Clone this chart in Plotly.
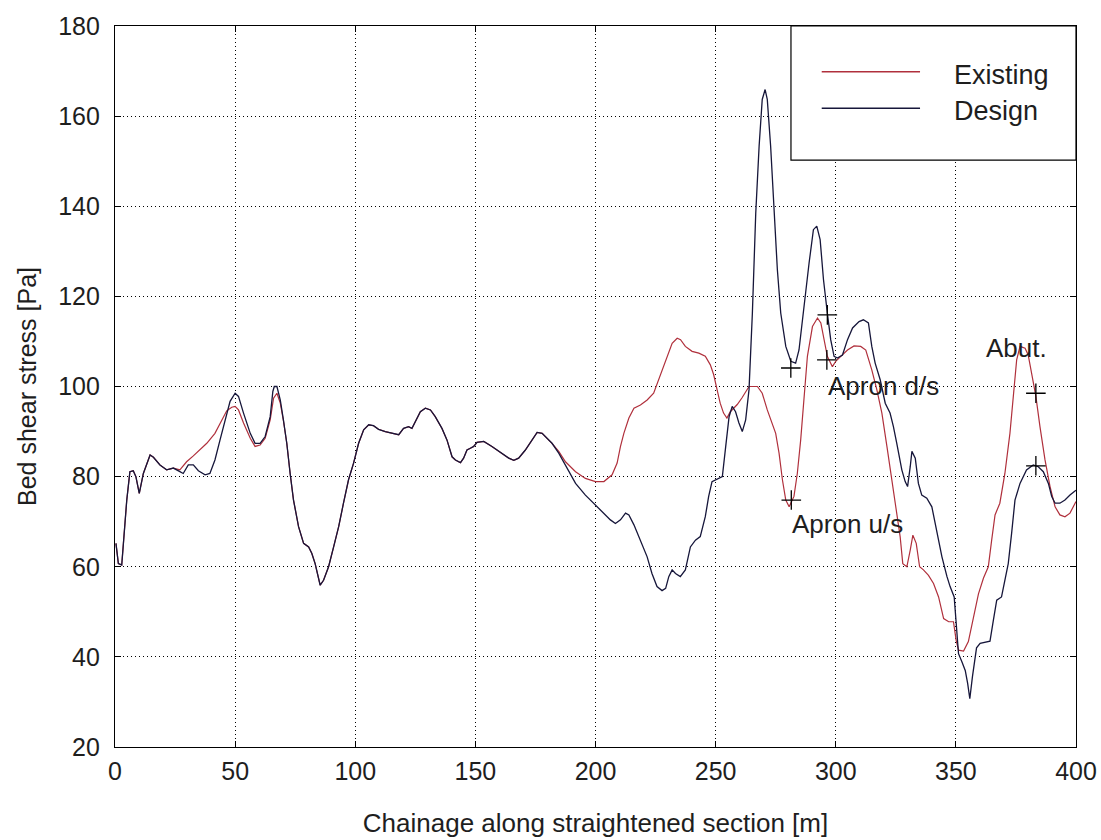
import plotly.graph_objects as go

# ---------------- data ----------------
shared_start_x = [0.4, 1.4, 2.8, 3.5, 4.9, 6.2, 7.6, 8.7, 10.1, 11.8, 14.6, 16.0, 18.7, 21.5, 24.3]
shared_start_y = [65.2, 60.7, 60.4, 65.0, 74.8, 81.1, 81.3, 80.0, 76.3, 80.7, 84.8, 84.3, 82.6, 81.5, 81.9]

shared_mid_x = [71.5, 72.9, 74.3, 76.4, 78.5, 80.6, 81.9, 83.3, 84.7, 85.4, 86.8, 88.9, 91.0, 93.1, 95.1,
                97.2, 99.3, 101.4, 103.5, 105.6, 107.6, 109.7, 112.5, 115.3, 118.1, 120.1, 122.2, 123.6,
                125.0, 127.1, 129.2, 131.3, 133.3, 136.1, 138.2, 140.3, 141.7, 143.8, 145.1, 146.5, 147.9,
                149.3, 150.7, 153.5, 156.9, 161.1, 163.9, 166.0, 168.0, 170.8, 173.6, 175.7, 177.8, 179.9,
                181.9]
shared_mid_y = [87.4, 80.7, 74.8, 68.9, 65.2, 64.4, 63.0, 60.7, 57.0, 55.9, 57.0, 60.0, 64.4, 68.9, 74.1,
                79.3, 83.0, 87.4, 90.4, 91.5, 91.3, 90.5, 90.0, 89.6, 89.3, 90.7, 91.1, 90.7,
                92.2, 94.4, 95.2, 94.8, 93.3, 90.7, 88.1, 84.4, 83.7, 83.1, 84.1, 85.9, 86.3,
                86.7, 87.6, 87.8, 86.7, 85.2, 84.1, 83.6, 84.1, 85.9, 88.1, 89.8, 89.6, 88.5,
                87.4]

existing_a_x = [27.0, 29.8, 32.6, 35.4, 38.2, 41.6, 44.4, 46.5, 48.6, 50.0, 51.4, 53.5, 56.3, 58.3, 60.4,
                62.5, 64.6, 66.0, 67.4, 68.8, 70.1]
existing_a_y = [81.5, 83.3, 84.6, 85.9, 87.4, 89.6, 92.5, 94.6, 95.4, 95.6, 94.8, 91.9, 88.5, 86.7, 87.0,
                88.5, 92.6, 97.4, 98.5, 96.3, 92.4]

existing_b_x = [184.7, 187.5, 191.7, 195.8, 200.0, 203.5, 206.9, 209.0, 210.4, 211.8, 213.9, 216.0, 218.7,
                221.5, 224.2, 226.3, 228.4, 230.5, 231.9, 234.0, 235.4, 237.4, 240.2, 243.0, 245.7, 247.8,
                249.2, 250.6, 251.9, 253.3, 254.7, 256.1, 257.5, 259.0, 261.0, 263.9, 267.4, 269.4, 271.5,
                273.6, 275.0, 276.4, 277.8, 279.2, 280.6, 282.6, 284.0, 285.4, 286.8, 288.2, 290.3, 292.4,
                293.8, 295.1, 296.5, 298.6, 300.0, 302.1, 304.9, 307.6, 310.4, 312.5, 315.0, 317.1, 319.2,
                321.3, 323.3, 325.4, 326.8, 327.9, 329.6, 331.0, 332.1, 333.5, 334.9, 336.5, 338.6, 340.7,
                342.8, 344.9, 347.0, 349.0, 350.1, 351.1, 353.2, 355.2, 357.3, 359.4, 361.5, 363.5, 364.9,
                366.3, 368.3, 370.4, 372.5, 373.9, 375.3, 376.7, 378.8, 380.1, 381.5, 383.3, 385.0, 387.1,
                389.2, 391.3, 393.3, 395.4, 397.5, 399.6, 400.0]
existing_b_y = [85.6, 83.3, 81.1, 79.6, 78.9, 78.9, 80.4, 83.0, 86.7, 89.6, 93.0, 95.2, 95.9,
                97.0, 98.5, 101.5, 104.4, 107.4, 109.6, 110.7, 110.4, 108.9, 107.8, 107.4, 106.7, 104.8,
                102.6, 99.3, 96.3, 94.1, 93.0, 94.4, 95.2, 96.0, 97.5, 100.0, 100.0, 98.5, 94.8,
                91.9, 89.6, 85.2, 79.3, 74.8, 73.3, 75.6, 80.7, 88.1, 97.8, 106.7, 113.3, 115.2,
                114.1, 110.4, 106.7, 104.4, 105.6, 106.7, 108.1, 109.0, 108.9, 108.1, 103.7, 99.3, 94.1,
                86.7, 79.3, 72.6, 66.7, 60.7, 60.0, 63.7, 67.0, 65.2, 60.0, 59.3, 58.1, 56.3,
                53.3, 48.5, 47.8, 47.8, 43.7, 41.5, 41.3, 43.4, 49.0, 54.0, 57.5, 60.0, 65.9,
                71.5, 74.1, 80.7, 89.6, 98.5, 105.9, 108.9, 108.5, 107.0, 103.0, 97.8, 91.1, 83.7,
                77.8, 73.3, 71.5, 71.1, 71.9, 74.1, 74.5]

design_a_x = [27.0, 28.4, 30.5, 32.6, 34.7, 37.5, 39.5, 41.6, 43.7, 45.8, 47.9, 50.0, 51.4, 53.5, 56.3,
              58.3, 60.4, 62.5, 64.6, 65.7, 66.3, 67.4, 68.8, 70.1]
design_a_y = [81.1, 80.7, 82.6, 82.6, 81.3, 80.4, 80.7, 83.7, 88.1, 92.6, 96.7, 98.5, 97.8, 94.1, 89.6,
              87.4, 87.4, 88.9, 93.3, 98.9, 100.0, 100.0, 97.0, 92.6]

design_b_x = [184.7, 187.5, 191.7, 195.8, 197.9, 200.0, 202.1, 206.2, 208.3, 210.4, 212.5, 213.9, 216.0,
              218.7, 221.5, 223.5, 225.6, 227.7, 229.2, 230.5, 231.9, 233.3, 235.3, 237.4, 239.5, 241.6,
              243.6, 245.7, 247.1, 248.5, 250.6, 252.8, 254.2, 255.6, 256.9, 258.3, 259.7, 261.1, 262.5,
              263.9, 265.3, 266.7, 268.1, 269.4, 270.6, 271.5, 272.9, 274.3, 275.7, 277.1, 279.2, 281.3,
              283.3, 284.7, 286.8, 288.9, 290.7, 292.1, 293.5, 294.9, 296.5, 297.9, 299.3, 300.7, 302.8,
              304.9, 307.0, 309.7, 311.5, 313.6, 315.0, 316.4, 318.5, 320.6, 322.6, 324.0, 325.4, 327.5,
              328.9, 329.9, 331.0, 331.7, 333.1, 334.4, 335.8, 337.9, 340.0, 342.1, 344.2, 346.3, 347.6,
              349.3, 350.4, 351.1, 352.5, 353.9, 354.9, 355.8, 356.9, 358.6, 360.1, 362.2, 364.2, 365.6,
              367.0, 369.0, 370.4, 371.8, 373.2, 374.6, 376.7, 379.4, 382.2, 384.3, 386.4, 388.5, 389.9,
              391.3, 393.3, 395.4, 397.5, 399.6, 400.0]
design_b_y = [85.2, 82.6, 78.5, 75.9, 74.8, 73.7, 72.6, 70.4, 69.6, 70.4, 71.9, 71.5, 69.3,
              65.9, 62.2, 58.5, 55.6, 54.7, 55.2, 57.8, 59.3, 58.5, 57.8, 59.3, 64.4, 65.9,
              66.7, 71.1, 75.6, 78.9, 79.4, 80.0, 86.7, 93.3, 95.6, 94.4, 91.9, 90.0, 92.6,
              99.3, 116.3, 138.5, 153.3, 163.7, 165.9, 163.7, 153.3, 138.5, 125.9, 116.3, 108.9, 105.6,
              105.2, 108.1, 118.5, 127.4, 134.8, 135.6, 132.6, 123.7, 116.3, 110.4, 106.7, 106.3, 107.0,
              110.4, 113.0, 114.4, 114.8, 114.1, 108.9, 105.2, 101.5, 96.3, 94.1, 91.1, 87.4, 81.5,
              78.9, 77.8, 82.2, 85.6, 84.1, 78.5, 75.9, 75.2, 73.3, 68.1, 62.2, 57.8, 55.6,
              53.3, 45.9, 40.7, 38.9, 37.0, 34.1, 30.7, 35.6, 42.0, 43.0, 43.3, 43.5, 48.1,
              52.6, 53.3, 57.0, 60.7, 67.4, 74.8, 78.5, 81.5, 82.6, 82.2, 81.1, 78.5, 75.6,
              74.1, 74.1, 74.8, 75.9, 76.7, 77.0]

existing_x = shared_start_x + existing_a_x + shared_mid_x + existing_b_x
existing_y = shared_start_y + existing_a_y + shared_mid_y + existing_b_y
design_x = shared_start_x + design_a_x + shared_mid_x + design_b_x
design_y = shared_start_y + design_a_y + shared_mid_y + design_b_y

marker_x = [281.5, 281.3, 296.3, 296.5, 383.3, 383.3]
marker_y = [74.8, 104.1, 105.9, 115.9, 98.5, 82.4]

label_text = ["Apron u/s", "Apron d/s", "Abut."]
label_x = [281.0, 296.0, 361.5]
label_y = [69.5, 100.2, 108.5]

x_ticks = [0, 50, 100, 150, 200, 250, 300, 350, 400]
y_ticks = [20, 40, 60, 80, 100, 120, 140, 160, 180]

legend_names = ["Existing", "Design"]

# ---------------- styling ----------------
FONT = "Liberation Sans, Arial, sans-serif"
FS_TICK = 25
FS_TITLE = 26
FS_NOTE = 26
FS_LEG = 27
TXT = "#1e1e1e"
C_EXIST = "#b0303c"
C_DESIGN = "#16163a"

fig = go.Figure()
fig.add_trace(go.Scatter(x=existing_x, y=existing_y, mode="lines", name=legend_names[0],
                         line=dict(color=C_EXIST, width=1.2), showlegend=False))
fig.add_trace(go.Scatter(x=design_x, y=design_y, mode="lines", name=legend_names[1],
                         line=dict(color=C_DESIGN, width=1.3), showlegend=False))
fig.add_trace(go.Scatter(x=marker_x, y=marker_y, mode="markers", name="points",
                         marker=dict(symbol="cross-thin", size=14, line=dict(color="black", width=1.3)),
                         showlegend=False))

for t, xx, yy in zip(label_text, label_x, label_y):
    fig.add_annotation(x=xx, y=yy, text=t, showarrow=False, xanchor="left", yanchor="middle",
                       font=dict(family=FONT, size=FS_NOTE, color=TXT))

axis_common = dict(showline=True, linecolor="black", linewidth=1.2, mirror="ticks",
                   ticks="inside", ticklen=6, tickcolor="black", tickwidth=1,
                   showgrid=True, gridcolor="black", gridwidth=1, griddash="1px,3px",
                   zeroline=False, ticklabeloverflow="allow",
                   tickfont=dict(family=FONT, size=FS_TICK, color=TXT))

fig.update_xaxes(range=[0, 400], tickvals=x_ticks, ticktext=[str(v) for v in x_ticks],
                 title=dict(text="Chainage along straightened section [m]",
                            font=dict(family=FONT, size=FS_TITLE, color=TXT), standoff=29),
                 ticklabelstandoff=2, **axis_common)
fig.update_yaxes(range=[20, 180], tickvals=y_ticks, ticktext=[str(v) for v in y_ticks],
                 title=dict(text="Bed shear stress [Pa]",
                            font=dict(family=FONT, size=FS_TICK, color=TXT), standoff=14),
                 ticklabelstandoff=9, **axis_common)

# legend box drawn as in the reference (box in the top-right corner)
lx0, lx1, ly0, ly1 = 0.7034, 1.0, 0.814, 1.0
fig.add_shape(type="rect", xref="paper", yref="paper", x0=lx0, x1=lx1, y0=ly0, y1=ly1,
              line=dict(color="black", width=1.2), fillcolor="white", layer="above")
for name, col, yy in zip(legend_names, [C_EXIST, C_DESIGN], [0.9366, 0.8858]):
    fig.add_shape(type="line", xref="paper", yref="paper", x0=0.7354, x1=0.8377, y0=yy, y1=yy,
                  line=dict(color=col, width=1.5), layer="above")
    fig.add_annotation(xref="paper", yref="paper", x=0.8707, y=yy - 0.004, text=name, showarrow=False,
                       xanchor="left", yanchor="middle", font=dict(family=FONT, size=FS_LEG, color=TXT))

fig.update_layout(width=1101, height=840, paper_bgcolor="white", plot_bgcolor="white",
                  margin=dict(l=115, r=25, t=26, b=93, autoexpand=False), showlegend=False)

# remove the browser's default 8 px body margin so the figure fills the window exactly
fig.write_html("out.html", config={"displayModeBar": False},
               post_script="document.body.style.margin='0px';document.body.style.overflow='hidden';")
